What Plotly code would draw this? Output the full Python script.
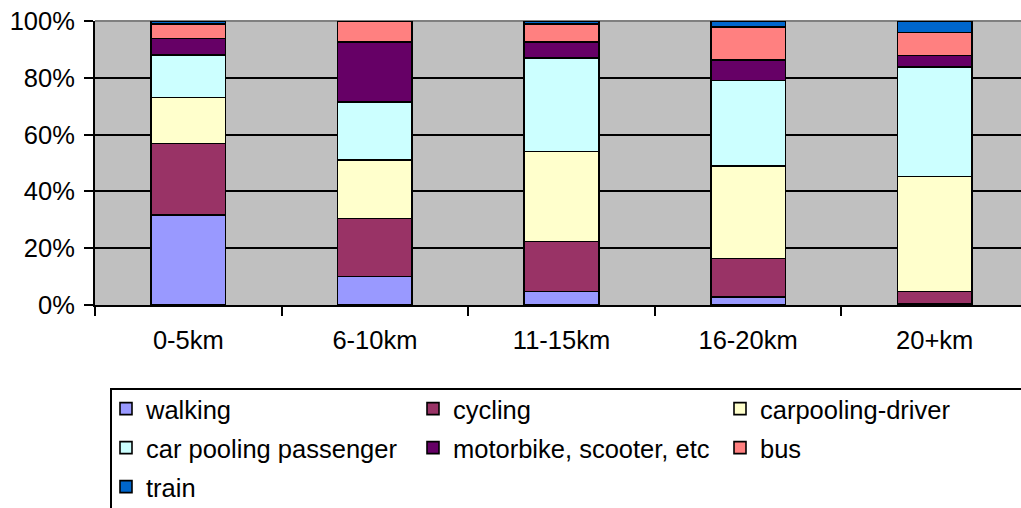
import plotly.graph_objects as go

# Distance bands
categories = ["0-5km", "6-10km", "11-15km", "16-20km", "20+km"]

# Share of trips (%) by mode for each distance band
walking = [31.7, 10.0, 4.7, 2.9, 0.5]
cycling = [25.2, 20.5, 17.6, 13.5, 4.2]
carpool_driver = [16.1, 20.6, 31.7, 32.5, 40.5]
carpool_passenger = [15.0, 20.3, 32.9, 30.1, 38.7]
motorbike = [5.9, 21.3, 5.8, 7.3, 3.9]
bus = [5.0, 7.3, 6.2, 11.5, 8.2]
train = [1.1, 0.0, 1.1, 2.2, 4.0]

y_tick_values = [0, 20, 40, 60, 80, 100]
y_tick_labels = ["0%", "20%", "40%", "60%", "80%", "100%"]

series = [
    ("walking", walking, "#9999FF", "legend"),
    ("cycling", cycling, "#993366", "legend"),
    ("carpooling-driver", carpool_driver, "#FFFFCC", "legend"),
    ("car pooling passenger", carpool_passenger, "#CCFFFF", "legend2"),
    ("motorbike, scooter, etc", motorbike, "#660066", "legend2"),
    ("bus", bus, "#FF8080", "legend2"),
    ("train", train, "#0066CC", "legend3"),
]

FONT = "Arial, Liberation Sans, sans-serif"

fig = go.Figure()
for name, values, color, leg in series:
    fig.add_trace(go.Bar(
        x=categories,
        y=values,
        name=name,
        width=0.4,
        marker=dict(color=color, line=dict(color="black", width=1.6)),
        legend=leg,
    ))

W, H = 1021, 508
ML, MT, MB = 95, 21, 203

legend_common = dict(
    orientation="h",
    xref="container",
    yref="container",
    xanchor="left",
    yanchor="middle",
    font=dict(family=FONT, size=25.5, color="black"),
    bgcolor="rgba(0,0,0,0)",
    borderwidth=0,
    entrywidth=262,
    entrywidthmode="pixels",
    traceorder="normal",
    itemclick=False,
)
legend_x = 106 / W
row_centers = [409, 448, 487]

fig.update_layout(
    width=W,
    height=H,
    margin=dict(l=ML, r=0, t=MT, b=MB, autoexpand=False),
    paper_bgcolor="white",
    plot_bgcolor="#C0C0C0",
    barmode="stack",
    bargap=0.6,
    font=dict(family=FONT, size=25.5, color="black"),
    showlegend=True,
    legend=dict(legend_common, x=legend_x, y=1 - row_centers[0] / H),
    legend2=dict(legend_common, x=legend_x, y=1 - row_centers[1] / H),
    legend3=dict(legend_common, x=legend_x, y=1 - row_centers[2] / H),
    xaxis=dict(
        type="category",
        range=[-0.5, 4.4625],
        showgrid=False,
        tickson="boundaries",
        ticks="outside",
        ticklen=9,
        tickwidth=1.5,
        tickcolor="black",
        showline=True,
        linecolor="black",
        linewidth=2,
        tickfont=dict(family=FONT, size=25.5, color="black"),
        ticklabelstandoff=11,
        fixedrange=True,
    ),
    yaxis=dict(
        range=[0, 100],
        tickvals=y_tick_values,
        ticktext=y_tick_labels,
        showgrid=True,
        gridcolor="black",
        gridwidth=1.6,
        ticks="outside",
        ticklen=9,
        tickwidth=1.5,
        tickcolor="black",
        showline=True,
        linecolor="black",
        linewidth=2,
        zeroline=False,
        tickfont=dict(family=FONT, size=25.5, color="black"),
        ticklabelstandoff=4,
        fixedrange=True,
    ),
    shapes=[
        # grey frame line along the top of the plot area
        dict(type="line", xref="paper", yref="paper", x0=0, x1=1, y0=1, y1=1,
             line=dict(color="#808080", width=2), layer="between"),
        # legend frame (runs off the right and bottom edges)
        dict(type="rect", xref="paper", yref="paper",
             x0=(111 - ML) / (W - ML), x1=1.2,
             y0=-2.0, y1=-(389 - (H - MB)) / (H - MB - MT),
             line=dict(color="black", width=2), fillcolor="rgba(0,0,0,0)",
             layer="above"),
    ],
)

fig.write_html("out.html")
